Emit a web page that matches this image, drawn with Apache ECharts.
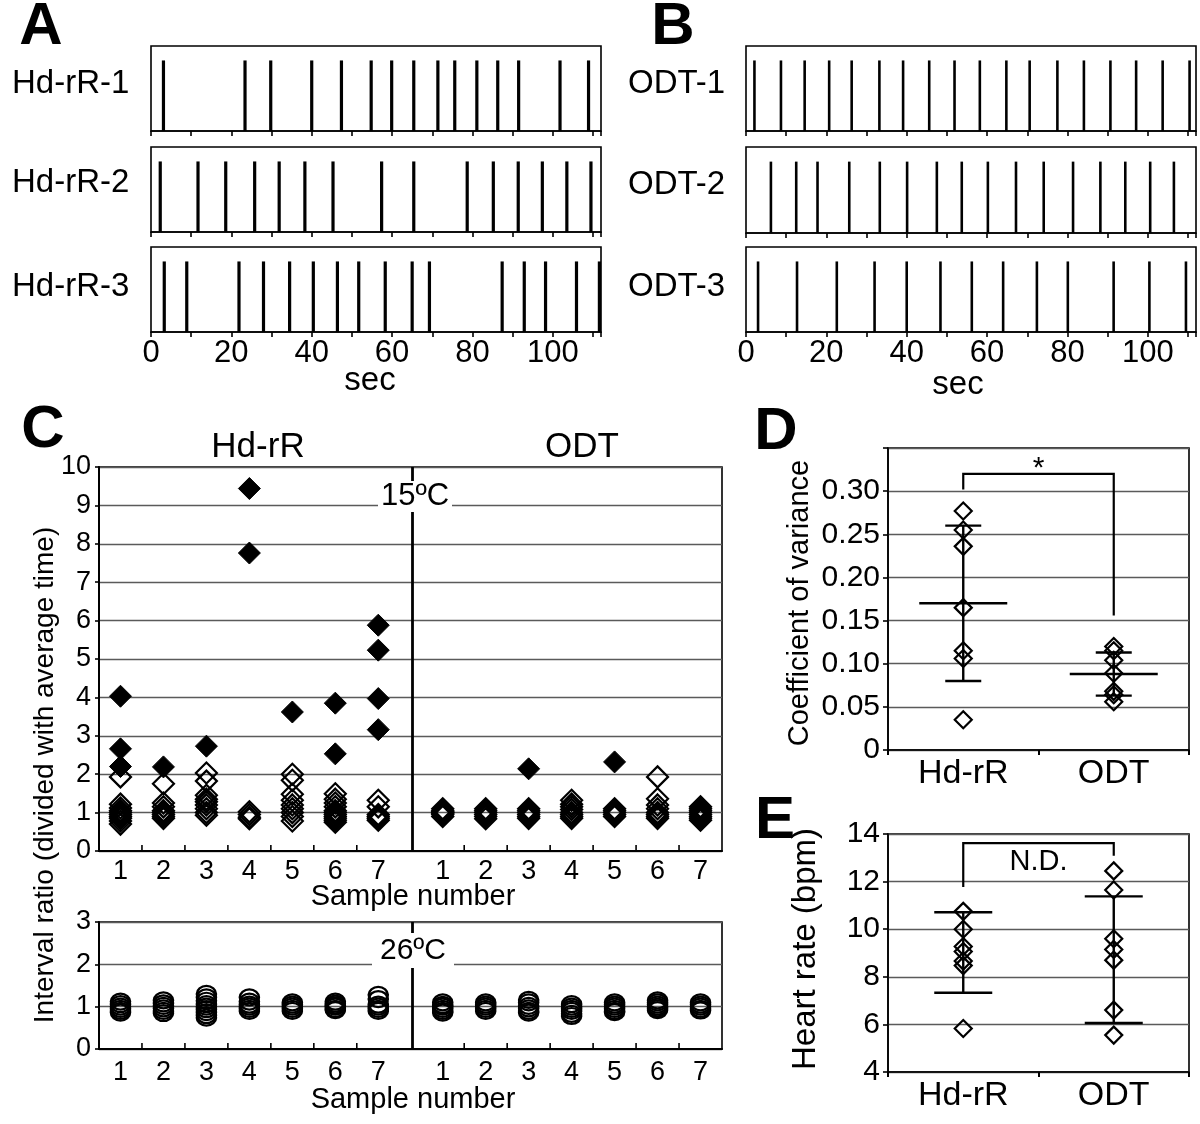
<!DOCTYPE html>
<html><head><meta charset="utf-8">
<script src="https://cdn.jsdelivr.net/npm/echarts/dist/echarts.min.js"></script>
<style>html,body{margin:0;padding:0;background:#fff}#c{width:1200px;height:1124px}</style>
</head><body><div id="c"></div>
<script>
// ---------- Panel A / B: beat times (sec) ----------
const hdRR1 = [3.1, 23.4, 29.8, 40.0, 47.4, 54.8, 59.9, 65.4, 71.4, 75.6, 81.1, 86.3, 91.5, 101.8, 108.9];
const hdRR2 = [2.3, 11.7, 18.6, 25.8, 31.9, 38.3, 45.3, 57.4, 65.4, 78.7, 85.2, 91.4, 97.4, 103.5, 109.5];
const hdRR3 = [3.3, 8.9, 21.9, 28.0, 34.5, 40.4, 46.4, 51.7, 58.3, 65.0, 69.3, 87.4, 92.9, 98.2, 105.9, 111.6];
const odt1 = [2.1, 8.7, 14.6, 20.7, 26.3, 33.2, 39.1, 45.6, 51.9, 58.2, 64.8, 70.6, 77.5, 84.1, 90.7, 97.1, 103.7, 110.4];
const odt2 = [6.2, 12.5, 17.8, 25.7, 33.3, 40.1, 47.5, 53.7, 60.2, 67.2, 74.1, 81.4, 88.2, 94.4, 100.6, 106.5];
const odt3 = [3.0, 12.7, 22.6, 32.0, 40.0, 48.4, 56.2, 64.0, 72.4, 80.1, 91.5, 100.4, 109.5];
const rowLabelsA = ['Hd-rR-1', 'Hd-rR-2', 'Hd-rR-3'];
const rowLabelsB = ['ODT-1', 'ODT-2', 'ODT-3'];
const secTicks = [0, 20, 40, 60, 80, 100];

// ---------- Panel C: interval ratio ----------
const samples = [1, 2, 3, 4, 5, 6, 7];
const hd15Open = [
  [1.93, 1.22, 1.12, 1.05, 1.0, 0.95, 0.9, 0.85, 0.78, 0.7],
  [1.75, 1.25, 1.15, 1.05, 1.0, 0.95, 0.9, 0.85],
  [2.03, 1.82, 1.45, 1.35, 1.28, 1.2, 1.1, 1.0, 0.93],
  [1.02, 0.95, 0.88, 0.84],
  [2.0, 1.84, 1.48, 1.32, 1.2, 1.1, 1.0, 0.9, 0.78],
  [1.49, 1.35, 1.25, 1.15, 1.05, 1.0, 0.95, 0.9, 0.85, 0.8, 0.75],
  [1.32, 1.15, 0.95, 0.9, 0.85, 0.8]
];
const hd15Filled = [[4.03, 2.66, 2.2], [2.19], [2.73], [9.44, 7.76], [3.62], [3.85, 2.53], [5.88, 5.23, 3.97, 3.16]];
const odt15Open = [
  [1.1, 1.05, 1.02, 1.0, 0.98, 0.95, 0.9],
  [1.1, 1.05, 1.0, 0.95, 0.9, 0.84],
  [1.1, 1.05, 1.0, 0.95, 0.9, 0.85],
  [1.32, 1.22, 1.15, 1.08, 1.0, 0.95, 0.9, 0.85],
  [1.1, 1.05, 1.0, 0.95, 0.9],
  [1.93, 1.36, 1.2, 1.1, 1.0, 0.95, 0.9, 0.85],
  [1.15, 1.1, 1.05, 1.0, 0.95, 0.9, 0.85, 0.8]
];
const odt15Filled = [[], [], [2.14], [], [2.32], [], []];
const hd26 = [
  [1.12, 1.06, 1.0, 0.95, 0.9, 0.86],
  [1.15, 1.08, 1.02, 0.96, 0.9, 0.85],
  [1.3, 1.22, 1.14, 1.06, 1.0, 0.94, 0.87, 0.8, 0.74],
  [1.22, 1.12, 1.05, 1.0, 0.95, 0.9],
  [1.1, 1.05, 1.0, 0.95, 0.9],
  [1.12, 1.07, 1.03, 1.0, 0.95, 0.92],
  [1.28, 1.18, 1.05, 1.0, 0.95, 0.9]
];
const odt26 = [
  [1.1, 1.04, 1.0, 0.95, 0.9, 0.86],
  [1.1, 1.05, 1.0, 0.95, 0.9],
  [1.16, 1.1, 1.02, 0.96, 0.9, 0.86],
  [1.06, 1.0, 0.95, 0.9, 0.83, 0.78],
  [1.1, 1.05, 1.0, 0.95, 0.9, 0.87],
  [1.15, 1.1, 1.05, 1.0, 0.96, 0.92],
  [1.1, 1.05, 1.0, 0.95, 0.91]
];

// ---------- Panel D: coefficient of variance ----------
const groups = ['Hd-rR', 'ODT'];
const cvHd = [0.277, 0.255, 0.236, 0.165, 0.115, 0.106, 0.035];
const cvOdt = [0.12, 0.115, 0.104, 0.089, 0.068, 0.064, 0.056];
const cvMean = [0.17, 0.088];
const cvSd = [0.09, 0.025];

// ---------- Panel E: heart rate ----------
const hrHd = [10.75, 10.0, 9.27, 9.06, 8.66, 8.47, 5.83];
const hrOdt = [12.45, 11.65, 9.6, 9.15, 8.7, 6.6, 5.55];
const hrMean = [9.02, 8.72];
const hrSd = [1.69, 2.66];

// ---------- layout / style ----------
const FONT = '"Liberation Sans", Arial, Helvetica, sans-serif';
const SPIKE_H = 0.83;
const RIGHT_OFFSET = 7.5;
const DIVIDER_X = 7.8;
const cTickPos = [1.5, 2.5, 3.5, 4.5, 5.5, 6.5, 9, 10, 11, 12, 13, 14];
const GRIDC = '#5a5a5a';

const chart = echarts.init(document.getElementById('c'), null, {renderer: 'canvas'});

const grids = [
  {left: 151, top: 46, width: 450, height: 85},
  {left: 151, top: 147, width: 450, height: 85},
  {left: 151, top: 247, width: 450, height: 85},
  {left: 746, top: 46, width: 450, height: 85},
  {left: 746, top: 147, width: 450, height: 86},
  {left: 746, top: 247, width: 450, height: 85},
  {left: 99, top: 467, width: 623, height: 384},
  {left: 99, top: 922, width: 623, height: 127},
  {left: 888, top: 448, width: 301, height: 302},
  {left: 888, top: 834, width: 301, height: 238}
].map(g => Object.assign({show: true, borderColor: '#000', borderWidth: 1.6, backgroundColor: 'transparent', containLabel: false}, g));

const blk = {color: '#000', width: 1.6};
const xAxes = [], yAxes = [];
for (let i = 0; i < 6; i++) {
  xAxes.push({type: 'value', gridIndex: i, min: 0, max: 112, interval: 10,
    axisLine: {show: true, lineStyle: blk}, axisTick: {show: true, length: 5, lineStyle: blk},
    splitLine: {show: false},
    axisLabel: {show: i === 2 || i === 5, color: '#000', fontFamily: FONT, fontSize: 31, margin: 6,
      formatter: v => secTicks.indexOf(Math.round(v * 1000) / 1000) >= 0 ? String(v) : ''}});
  yAxes.push({type: 'value', gridIndex: i, min: 0, max: 1, show: false});
}
const cLabel = v => {
  if (Math.abs(v - Math.round(v)) < 1e-6 && v >= 1 && v <= 7) return String(Math.round(v));
  const w = v - RIGHT_OFFSET;
  if (Math.abs(w - Math.round(w)) < 1e-6 && w >= 1 && w <= 7) return String(Math.round(w));
  return '';
};
[6, 7].forEach(g => {
  xAxes.push({type: 'value', gridIndex: g, min: 0.5, max: 15, interval: 0.5,
    axisLine: {show: true, lineStyle: {color: '#000', width: 2}}, axisTick: {show: false},
    splitLine: {show: false},
    axisLabel: {color: '#000', fontFamily: FONT, fontSize: 27, margin: g === 6 ? 7 : 10, formatter: cLabel}});
});
yAxes.push({type: 'value', gridIndex: 6, min: 0, max: 10, interval: 1,
  axisLine: {show: true, lineStyle: {color: '#000', width: 2}}, axisTick: {show: true, length: 4, lineStyle: blk},
  splitLine: {show: true, lineStyle: {color: GRIDC, width: 1.4}},
  axisLabel: {color: '#000', fontFamily: FONT, fontSize: 27, margin: 8}});
yAxes.push({type: 'value', gridIndex: 7, min: 0, max: 3, interval: 1,
  axisLine: {show: true, lineStyle: {color: '#000', width: 2}}, axisTick: {show: true, length: 4, lineStyle: blk},
  splitLine: {show: true, lineStyle: {color: GRIDC, width: 1.4}},
  axisLabel: {color: '#000', fontFamily: FONT, fontSize: 27, margin: 8}});
[8, 9].forEach(g => {
  xAxes.push({type: 'category', gridIndex: g, data: groups,
    axisLine: {show: true, lineStyle: blk}, axisTick: {show: true, length: 5, interval: 0, lineStyle: {color: '#000', width: 2}},
    axisLabel: {color: '#000', fontFamily: FONT, fontSize: 34, margin: 7}});
});
yAxes.push({type: 'value', gridIndex: 8, min: 0, max: 0.35, interval: 0.05,
  axisLine: {show: true, lineStyle: blk}, axisTick: {show: true, length: 5, lineStyle: blk},
  splitLine: {show: true, lineStyle: {color: GRIDC, width: 1.4}},
  axisLabel: {color: '#000', fontFamily: FONT, fontSize: 30, margin: 8,
    formatter: v => v < 1e-9 ? '0' : (v > 0.34 ? '' : v.toFixed(2))}});
yAxes.push({type: 'value', gridIndex: 9, min: 4, max: 14, interval: 2,
  axisLine: {show: true, lineStyle: blk}, axisTick: {show: true, length: 5, lineStyle: blk},
  splitLine: {show: true, lineStyle: {color: GRIDC, width: 1.4}},
  axisLabel: {color: '#000', fontFamily: FONT, fontSize: 30, margin: 8}});

// ---------- render helpers ----------
function spikeRender(w) {
  return function (params, api) {
    const x = api.value(0);
    const b = api.coord([x, 0]);
    const t = api.coord([x, api.value(1)]);
    return {type: 'rect', shape: {x: b[0] - w / 2, y: t[1], width: w, height: b[1] - t[1]}, style: {fill: '#000'}};
  };
}
function tickRender(params, api) {
  const p = api.coord([api.value(0), 0]);
  return {type: 'line', shape: {x1: p[0], y1: p[1], x2: p[0], y2: p[1] - 6}, style: {stroke: '#000', lineWidth: 1.6}};
}
function errRender(capHalf, meanHalf) {
  return function (params, api) {
    const i = api.value(0), m = api.value(1), s = api.value(2);
    const pm = api.coord([i, m]), pt = api.coord([i, m + s]), pb = api.coord([i, m - s]);
    const x = pm[0];
    const st = {stroke: '#000', lineWidth: 2.4};
    const ch = [
      {type: 'line', shape: {x1: x, y1: pt[1], x2: x, y2: pb[1]}, style: st},
      {type: 'line', shape: {x1: x - capHalf, y1: pt[1], x2: x + capHalf, y2: pt[1]}, style: st},
      {type: 'line', shape: {x1: x - capHalf, y1: pb[1], x2: x + capHalf, y2: pb[1]}, style: st}
    ];
    if (meanHalf) ch.push({type: 'line', shape: {x1: x - meanHalf, y1: pm[1], x2: x + meanHalf, y2: pm[1]}, style: st});
    return {type: 'group', children: ch};
  };
}
function bracketRender(label, dy, fs) {
  return function (params, api) {
    const yT = api.value(1), yL = api.value(3), yR = api.value(4);
    const a = api.coord([0, yL]), b = api.coord([0, yT]), c = api.coord([1, yT]), d = api.coord([1, yR]);
    return {type: 'group', children: [
      {type: 'polyline', shape: {points: [a, b, c, d]}, style: {stroke: '#000', lineWidth: 2.2, fill: null}},
      {type: 'text', style: {text: label, x: (b[0] + c[0]) / 2, y: b[1] + dy, font: fs + 'px ' + FONT,
        align: 'center', verticalAlign: 'middle', textAlign: 'center', textVerticalAlign: 'middle', fill: '#000'}}
    ]};
  };
}
const flat = (arr, off) => arr.flatMap((vals, i) => vals.map(v => [samples[i] + off, v]));
const openDia = {color: 'rgba(0,0,0,0)', borderColor: '#000', borderWidth: 2.2, opacity: 1};
const openCirc = {color: 'rgba(0,0,0,0)', borderColor: '#000', borderWidth: 2.4, opacity: 1};
const fillDia = {color: '#000', borderColor: '#000', borderWidth: 1, opacity: 1};
const divider = {silent: true, symbol: ['none', 'none'], label: {show: false},
  lineStyle: {color: '#000', width: 2.8, type: 'solid', opacity: 1}, data: [{xAxis: DIVIDER_X}]};

const series = [];
[hdRR1, hdRR2, hdRR3, odt1, odt2, odt3].forEach((arr, i) => {
  series.push({type: 'custom', xAxisIndex: i, yAxisIndex: i, silent: true, clip: false,
    renderItem: spikeRender(i < 3 ? 3.2 : 2.6), data: arr.map(t => [t, SPIKE_H])});
});
[6, 7].forEach(g => series.push({type: 'custom', xAxisIndex: g, yAxisIndex: g, silent: true,
  renderItem: tickRender, data: cTickPos.map(x => [x, 0])}));
series.push({type: 'scatter', xAxisIndex: 6, yAxisIndex: 6, symbol: 'diamond', symbolSize: 21, silent: true,
  itemStyle: openDia, data: flat(hd15Open, 0).concat(flat(odt15Open, RIGHT_OFFSET)), markLine: divider});
series.push({type: 'scatter', xAxisIndex: 6, yAxisIndex: 6, symbol: 'diamond', symbolSize: 22, silent: true,
  itemStyle: fillDia, data: flat(hd15Filled, 0).concat(flat(odt15Filled, RIGHT_OFFSET))});
series.push({type: 'scatter', xAxisIndex: 7, yAxisIndex: 7, symbol: 'circle', symbolSize: [19, 16], silent: true,
  itemStyle: openCirc, data: flat(hd26, 0).concat(flat(odt26, RIGHT_OFFSET)), markLine: divider});
series.push({type: 'scatter', xAxisIndex: 8, yAxisIndex: 8, symbol: 'diamond', symbolSize: 17, silent: true,
  itemStyle: openDia, data: cvHd.map(v => [0, v]).concat(cvOdt.map(v => [1, v]))});
series.push({type: 'custom', xAxisIndex: 8, yAxisIndex: 8, silent: true, renderItem: errRender(18, 44),
  data: cvMean.map((m, i) => [i, m, cvSd[i]])});
series.push({type: 'custom', xAxisIndex: 8, yAxisIndex: 8, silent: true, clip: false, renderItem: bracketRender('*', -5, 30),
  data: [[0, 0.32, 1, 0.302, 0.156]]});
series.push({type: 'scatter', xAxisIndex: 9, yAxisIndex: 9, symbol: 'diamond', symbolSize: 17, silent: true,
  itemStyle: openDia, data: hrHd.map(v => [0, v]).concat(hrOdt.map(v => [1, v]))});
series.push({type: 'custom', xAxisIndex: 9, yAxisIndex: 9, silent: true, renderItem: errRender(29, 0),
  data: hrMean.map((m, i) => [i, m, hrSd[i]])});
series.push({type: 'custom', xAxisIndex: 9, yAxisIndex: 9, silent: true, clip: false, renderItem: bracketRender('N.D.', 19, 29),
  data: [[0, 13.62, 1, 11.77, 13.09]]});

// ---------- texts ----------
function txt(t, x, y, fs, opt) {
  opt = opt || {};
  return {type: 'text', x: x, y: y, rotation: opt.rot || 0, z: 100, silent: true,
    style: {text: t, x: 0, y: 0, font: (opt.bold ? 'bold ' : '') + fs + 'px ' + FONT, fill: '#000',
      align: opt.align || 'center', verticalAlign: 'middle', textAlign: opt.align || 'center', textVerticalAlign: 'middle'}};
}
function boxLabel(t, x0, y0, x1, y1, fs) {
  return {type: 'group', z: 100, silent: true, children: [
    {type: 'rect', z: 100, shape: {x: x0, y: y0, width: x1 - x0, height: y1 - y0}, style: {fill: '#fff'}},
    txt(t, (x0 + x1) / 2, (y0 + y1) / 2, fs)
  ]};
}
const graphics = [
  txt('A', 41, 27, 60, {bold: true}), txt('B', 673, 27, 60, {bold: true}),
  txt('C', 43, 430, 60, {bold: true}), txt('D', 776, 432, 60, {bold: true}), txt('E', 775, 821, 60, {bold: true}),
  txt(rowLabelsA[0], 12, 84, 33, {align: 'left'}), txt(rowLabelsA[1], 12, 183, 33, {align: 'left'}), txt(rowLabelsA[2], 12, 287, 33, {align: 'left'}),
  txt(rowLabelsB[0], 628, 84, 33, {align: 'left'}), txt(rowLabelsB[1], 628, 185, 33, {align: 'left'}), txt(rowLabelsB[2], 628, 287, 33, {align: 'left'}),
  txt('sec', 370, 381, 33), txt('sec', 958, 385, 33),
  txt('Hd-rR', 258, 447, 35), txt('ODT', 582, 447, 35),
  txt('Sample number', 413, 897, 29), txt('Sample number', 413, 1100, 29),
  txt('Interval ratio (divided with average time)', 45, 775, 28, {rot: Math.PI / 2}),
  txt('Coefficient of variance', 800, 603, 29, {rot: Math.PI / 2}),
  txt('Heart rate (bpm)', 806, 949, 33, {rot: Math.PI / 2}),
  boxLabel('15ºC', 378, 481, 452, 512, 31),
  boxLabel('26ºC', 372, 933, 454, 968, 30)
];

chart.setOption({
  animation: false,
  backgroundColor: '#fff',
  textStyle: {fontFamily: FONT},
  grid: grids, xAxis: xAxes, yAxis: yAxes, series: series, graphic: graphics
});
</script></body></html>
